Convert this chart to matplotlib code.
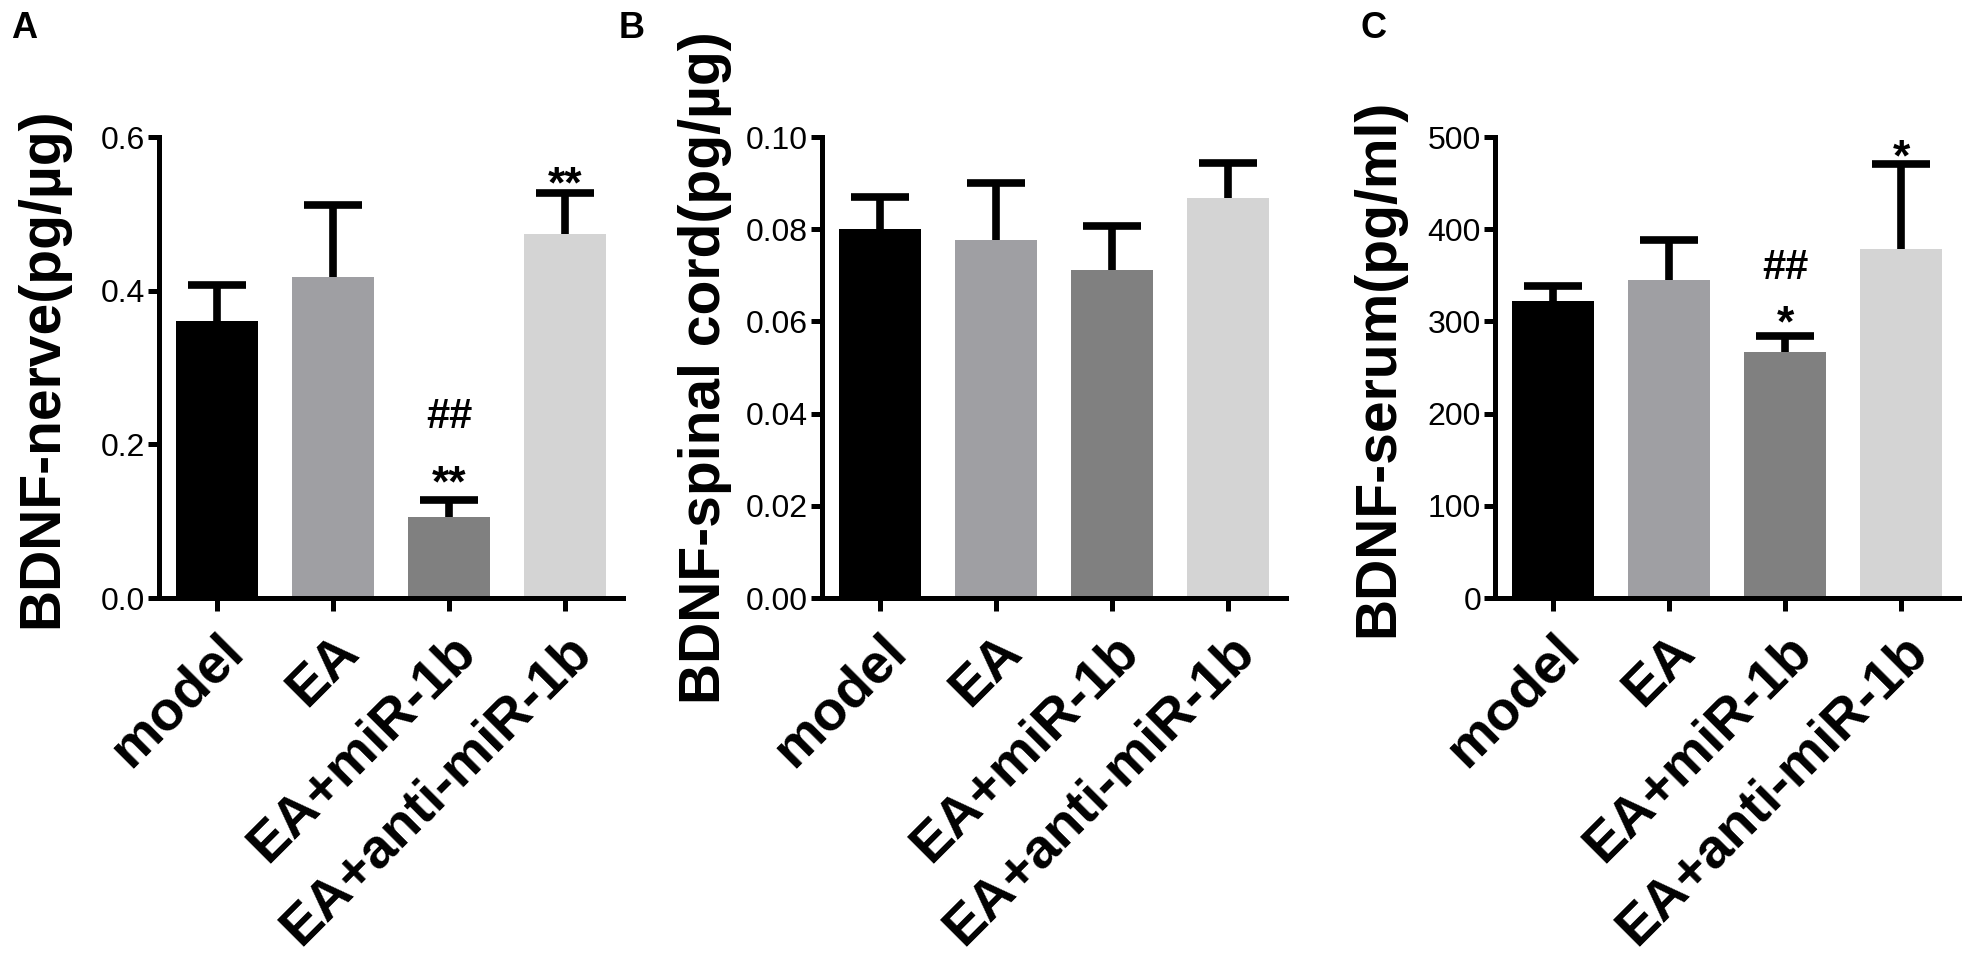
import matplotlib
matplotlib.use("Agg")
import matplotlib.pyplot as plt
import numpy as np

plt.rcParams['font.family'] = ['Liberation Sans', 'DejaVu Sans']

# groups (same in all three panels)
groups = ["model", "EA", "EA+miR-1b", "EA+anti-miR-1b"]
bar_colors = ["#000000", "#9f9fa3", "#808080", "#d4d4d4"]

# A: nerve (pg/ug)
nerve_mean = [0.361, 0.418, 0.106, 0.474]
nerve_sem = [0.047, 0.093, 0.021, 0.053]
nerve_stars = ["", "", "**", "**"]
nerve_hash = ["", "", "##", ""]

# B: spinal cord (pg/ug)
spinal_mean = [0.0801, 0.0777, 0.0711, 0.0868]
spinal_sem = [0.0069, 0.0123, 0.0095, 0.0076]

# C: serum (pg/ml)
serum_mean = [321.6, 345.0, 267.0, 378.0]
serum_sem = [16.4, 43.0, 17.0, 93.0]
serum_stars = ["", "", "*", "*"]
serum_hash = ["", "", "##", ""]

W, H = 1966, 963
fig = plt.figure(figsize=(W / 100, H / 100), dpi=100)


def panel(left_px, means, sems, ymax, yticks, ticklabels, ylabel,
          stars=None, hashes=None, star_off=(0, 0), hash_off=0):
    ax = fig.add_axes([left_px / W, (H - 598) / H, 464 / W, 461 / H])
    x = np.arange(len(groups))
    eb = ax.errorbar(x, means, yerr=[np.zeros(len(sems)), sems], fmt='none',
                     ecolor='black', elinewidth=5.5, capsize=21, capthick=5.5,
                     zorder=1)
    # only the upper caps are drawn (one-sided error bars)
    eb[1][0].set_visible(False)
    ax.bar(x, means, width=0.71, color=bar_colors, zorder=2)
    ax.set_xlim(-0.5, 3.5)
    ax.set_ylim(0, ymax)
    ax.set_yticks(yticks)
    ax.set_yticklabels(ticklabels, fontsize=23)
    ax.set_xticks(x)
    ax.set_xticklabels(groups, fontsize=40, fontweight='bold', rotation=45,
                       ha='right', rotation_mode='anchor')
    for s in ['top', 'right']:
        ax.spines[s].set_visible(False)
    for s in ['left', 'bottom']:
        ax.spines[s].set_linewidth(3.6)
    ax.tick_params(axis='y', length=8, width=3.6, pad=2)
    ax.tick_params(axis='x', length=9.5, width=3.6, pad=10)
    ax.set_ylabel(ylabel, fontsize=41, fontweight='bold')
    ax.yaxis.set_label_coords(-117 / 464, 0.5)
    ax.yaxis.label.set_va('center')

    if stars is not None:
        for i in range(len(groups)):
            top = means[i] + sems[i]
            if stars[i]:
                ax.annotate(stars[i], (x[i], top), xytext=(0, star_off[i]),
                            textcoords='offset points', ha='center',
                            va='baseline', fontsize=32, fontweight='bold')
            if hashes[i]:
                ax.annotate(hashes[i], (x[i], top), xytext=(0, hash_off),
                            textcoords='offset points', ha='center',
                            va='baseline', fontsize=30, fontweight='bold')
    return ax


panel(159, nerve_mean, nerve_sem, 0.6, [0, 0.2, 0.4, 0.6],
      ["0.0", "0.2", "0.4", "0.6"], "BDNF-nerve(pg/\u00b5g)",
      nerve_stars, nerve_hash, star_off=(0, 0, 3, -3), hash_off=52)
panel(822, spinal_mean, spinal_sem, 0.10, [0, 0.02, 0.04, 0.06, 0.08, 0.10],
      ["0.00", "0.02", "0.04", "0.06", "0.08", "0.10"],
      "BDNF-spinal cord(pg/\u00b5g)")
panel(1495, serum_mean, serum_sem, 500, [0, 100, 200, 300, 400, 500],
      ["0", "100", "200", "300", "400", "500"], "BDNF-serum(pg/ml)",
      serum_stars, serum_hash, star_off=(0, 0, 0, -5), hash_off=41)

for lab, xp in [("A", 24), ("B", 632), ("C", 1374)]:
    fig.text(xp / W, 1 - 29 / H, lab, fontsize=26, fontweight='bold',
             ha='center', va='center')

fig.savefig("out.png", dpi=100)
